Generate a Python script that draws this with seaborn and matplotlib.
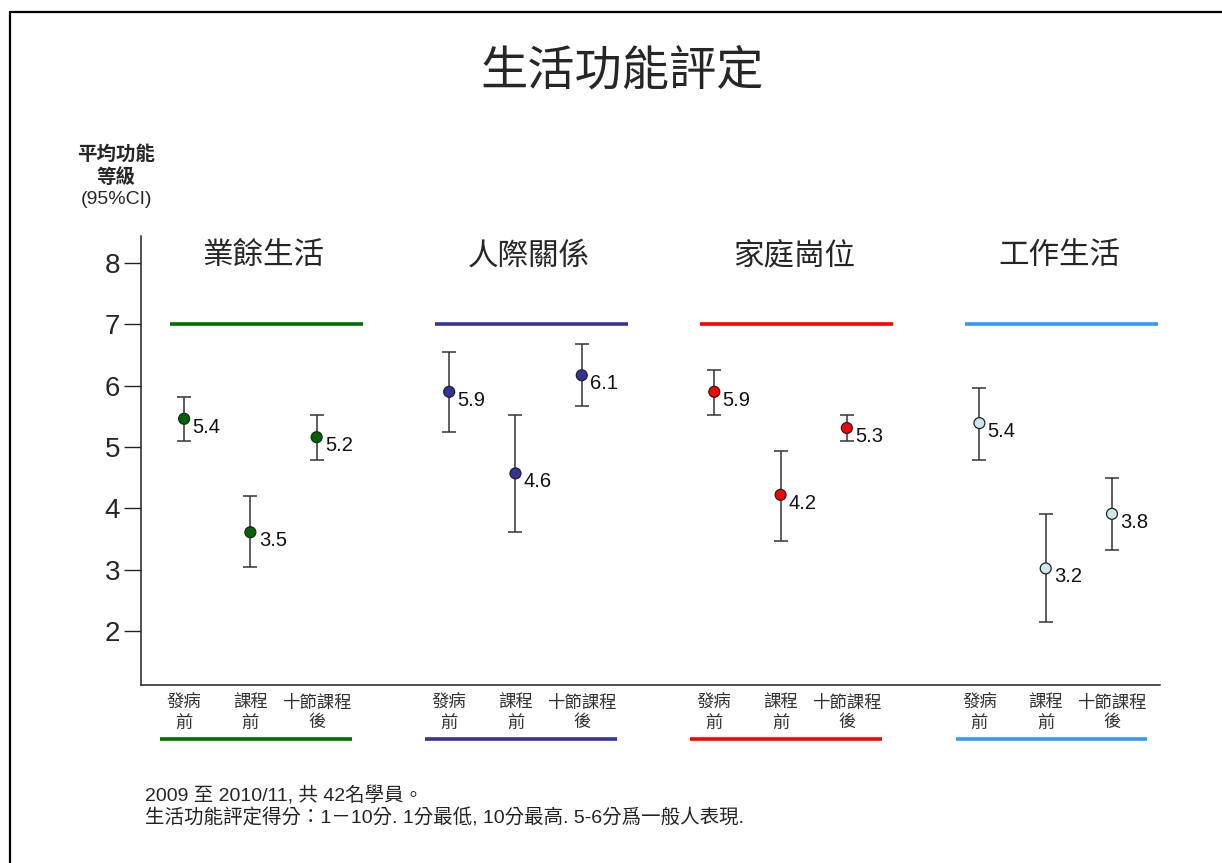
import numpy as np
import pandas as pd
import matplotlib
matplotlib.use("Agg")
import matplotlib.pyplot as plt
import matplotlib.transforms as mtransforms
from matplotlib.lines import Line2D
import seaborn as sns

# data
groups = ['業餘生活', '人際關係', '家庭崗位', '工作生活']
stages = ['發病\n前', '課程\n前', '十節課程\n後']
means = [[5.46, 3.61, 5.16],
         [5.90, 4.57, 6.17],
         [5.90, 4.22, 5.31],
         [5.39, 3.02, 3.91]]
ci_low = [[5.10, 3.04, 4.79],
          [5.24, 3.61, 5.67],
          [5.52, 3.46, 5.10],
          [4.79, 2.14, 3.32]]
ci_high = [[5.81, 4.20, 5.52],
           [6.55, 5.52, 6.68],
           [6.25, 4.93, 5.52],
           [5.96, 3.91, 4.49]]
point_labels = [['5.4', '3.5', '5.2'],
                ['5.9', '4.6', '6.1'],
                ['5.9', '4.2', '5.3'],
                ['5.4', '3.2', '3.8']]
norm_level = 7
line_colors = ['#006e00', '#333399', '#ff0000', '#3399ff']
marker_colors = ['#006400', '#333399', '#ff0000', '#cce8e8']

rows = []
for g, grp in enumerate(groups):
    for s, stage in enumerate(stages):
        rows.append({'group': grp, 'stage': stage, 'x': g * 4 + s,
                     'mean': means[g][s], 'lo': ci_low[g][s], 'hi': ci_high[g][s],
                     'label': point_labels[g][s]})
df = pd.DataFrame(rows)

sns.set_style('white')
plt.rcParams['font.family'] = ['Liberation Sans', 'Noto Sans CJK TC', 'DejaVu Sans']

fig = plt.figure(figsize=(12.22, 8.63), dpi=100)
ax = fig.add_axes([0.1154, 0.2063, 0.949 - 0.1154, 0.7265 - 0.2063])

# error bars
ax.errorbar(df['x'], df['mean'], yerr=[df['mean'] - df['lo'], df['hi'] - df['mean']],
            fmt='none', ecolor='#333333', elinewidth=1.1, capsize=5, capthick=1.1, zorder=2)
sns.scatterplot(data=df, x='x', y='mean', hue='group', palette=marker_colors,
                s=62, edgecolor='#222222', linewidth=0.9, legend=False, ax=ax, zorder=3)

for _, r in df.iterrows():
    ax.annotate(r['label'], (r['x'], r['mean']), xytext=(6, -6), textcoords='offset points',
                fontsize=14.5, va='center', ha='left', color='#111111')

below = mtransforms.blended_transform_factory(ax.transData, ax.transAxes)
for g, grp in enumerate(groups):
    base = g * 4
    ax.plot([base - 0.22, base + 2.7], [norm_level, norm_level], color=line_colors[g],
            lw=2.6, clip_on=False, solid_capstyle='butt')
    ax.text(base + 1.2, 0.955, grp, transform=below, ha='center', va='center', fontsize=22)
    ax.plot([base - 0.36, base + 2.53], [-0.12, -0.12], transform=below, color=line_colors[g],
            lw=2.6, clip_on=False, solid_capstyle='butt')

ax.set_xlim(-0.65, 14.72)
ax.set_ylim(1.12, 8.44)
ax.set_yticks([2, 3, 4, 5, 6, 7, 8])
ax.set_xticks(df['x'])
ax.set_xticklabels(df['stage'], fontsize=12.5, color='#333333', linespacing=1.3)
ax.tick_params(axis='x', length=0, pad=7)
ax.tick_params(axis='y', length=12, width=1, labelsize=20, pad=3, left=True, color='#222222')
ax.set_xlabel('')
ax.set_ylabel('')
sns.despine(ax=ax)
for sp in ['left', 'bottom']:
    ax.spines[sp].set_color('#222222')
    ax.spines[sp].set_linewidth(1.1)

fig.text(622 / 1222, 1 - 72 / 863, '生活功能評定', ha='center', va='center', fontsize=34)
fig.text(116 / 1222, 1 - 166 / 863, '平均功能\n等級', ha='center', va='center',
         fontsize=14, fontweight='bold', linespacing=1.3)
fig.text(116 / 1222, 1 - 199 / 863, '(95%CI)', ha='center', va='center', fontsize=14)
fig.text(145 / 1222, 1 - 796 / 863, '2009 至 2010/11, 共 42名學員。', ha='left', va='center',
         fontsize=14)
fig.text(145 / 1222, 1 - 818 / 863, '生活功能評定得分：1－10分. 1分最低, 10分最高. 5-6分爲一般人表現.',
         ha='left', va='center', fontsize=14, color='#222222')

# slide frame
fig.add_artist(Line2D([10 / 1222, 1], [1 - 12 / 863, 1 - 12 / 863], color='black', lw=1.6))
fig.add_artist(Line2D([10 / 1222, 10 / 1222], [0, 1 - 12 / 863], color='black', lw=1.6))

fig.savefig('out.png', dpi=100)
